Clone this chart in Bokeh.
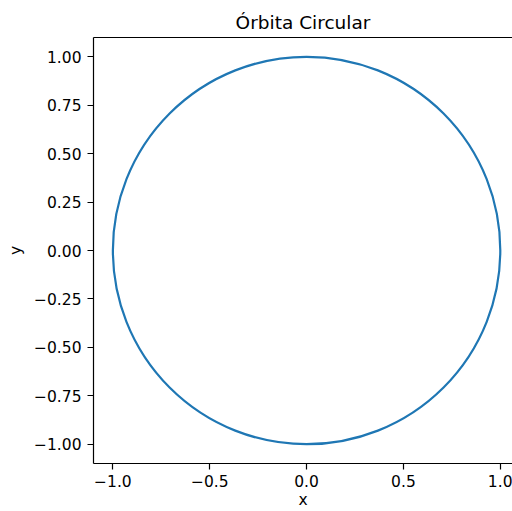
from bokeh.plotting import figure
from bokeh.models import (LinearAxis, FixedTicker, CustomJSTickFormatter, Range1d)
from bokeh.embed import file_html
from bokeh.resources import INLINE

# Orbit: a unit circle centred on the origin
center_x = [0.0]
center_y = [0.0]
orbit_radius = [1.0]

# Tick positions
x_ticks = [-1.0, -0.5, 0.0, 0.5, 1.0]
y_ticks = [-1.0, -0.75, -0.5, -0.25, 0.0, 0.25, 0.5, 0.75, 1.0]

FONT = "DejaVu Sans"
TICK_SIZE = "15.5px"

p = figure(
    width=512, height=511,
    x_range=Range1d(-1.1, 1.063), y_range=Range1d(-1.1, 1.1),
    output_backend="svg", toolbar_location=None,
    min_border_left=93, min_border_right=0, min_border_top=37, min_border_bottom=48,
    x_axis_label="x", y_axis_label="y",
)
p.background_fill_color = "white"
p.border_fill_color = "white"
p.outline_line_color = None
p.xgrid.visible = False
p.ygrid.visible = False

p.circle(x=center_x, y=center_y, radius=orbit_radius,
         fill_color=None, line_color="#1f77b4", line_width=2.2)

p.title.text = "Órbita Circular"
p.title.text_font = FONT
p.title.text_font_size = "18.5px"
p.title.text_font_style = "normal"
p.title.text_color = "black"
p.title.align = "center"
p.title.offset = 3.5

fmt_x = CustomJSTickFormatter(code="return tick.toFixed(1).replace('-', '\u2212');")
fmt_y = CustomJSTickFormatter(code="return tick.toFixed(2).replace('-', '\u2212');")

xa = p.xaxis[0]
xa.ticker = FixedTicker(ticks=x_ticks)
xa.formatter = fmt_x
ya = p.yaxis[0]
ya.ticker = FixedTicker(ticks=y_ticks)
ya.formatter = fmt_y

for ax in (xa, ya):
    ax.axis_line_color = "black"
    ax.axis_line_width = 1.2
    ax.major_tick_line_color = "black"
    ax.major_tick_line_width = 1.2
    ax.major_tick_out = 6
    ax.major_tick_in = 0
    ax.minor_tick_line_color = None
    ax.major_label_text_font = FONT
    ax.major_label_text_font_size = TICK_SIZE
    ax.major_label_text_color = "black"
    ax.major_label_standoff = 6
    ax.axis_label_text_font = FONT
    ax.axis_label_text_font_size = TICK_SIZE
    ax.axis_label_text_font_style = "normal"
    ax.axis_label_text_color = "black"
    ax.axis_label_standoff = 6

xa.major_label_standoff = 5
xa.axis_label_standoff = 1

# Top border of the frame
top = LinearAxis(ticker=FixedTicker(ticks=[]), axis_line_color="black",
                 axis_line_width=1.2, major_tick_line_color=None,
                 minor_tick_line_color=None, major_label_text_font_size="0px")
p.add_layout(top, "above")

open("out.html", "w").write(file_html(p, INLINE))
